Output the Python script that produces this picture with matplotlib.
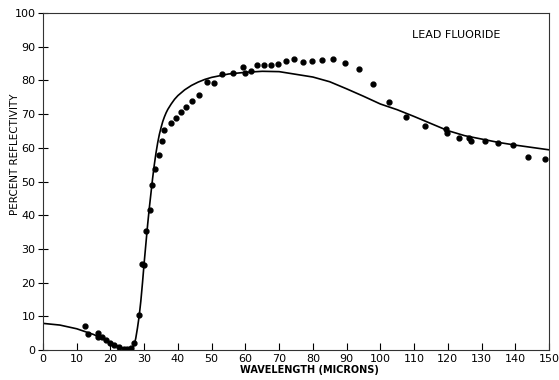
import matplotlib
matplotlib.use("Agg")
import matplotlib.pyplot as plt

# measured reflectivity points (wavelength in microns, percent)
pts_x = [12.5, 13.4, 16.2, 16.4, 17.4, 18.7, 19.9, 21.1, 22.6, 24.0, 25.0, 26.0, 27.1, 28.5,
         29.3, 29.8, 30.4, 31.6, 32.2, 33.3, 34.3, 35.4, 35.9, 37.9, 39.3, 40.8, 42.5, 44.3,
         46.3, 48.5, 50.8, 53.2, 56.2, 59.3, 59.8, 61.7, 63.5, 65.5, 67.6, 69.7, 72.0, 74.4,
         77.0, 79.8, 82.6, 86.1, 89.6, 93.6, 97.7, 102.7, 107.7, 113.3, 119.5, 119.9, 123.3,
         126.3, 126.8, 131.0, 135.0, 139.4, 143.7, 148.8]
pts_y = [7.0, 4.7, 5.1, 3.9, 3.8, 2.9, 2.2, 1.5, 1.0, 0.4, 0.2, 0.5, 2.2, 10.4,
         25.5, 25.3, 35.4, 41.5, 49.0, 53.6, 58.0, 62.1, 65.4, 67.3, 68.9, 70.5, 72.2, 73.9,
         75.7, 79.4, 79.1, 81.8, 82.1, 83.9, 82.1, 82.8, 84.5, 84.5, 84.6, 84.8, 85.8, 86.3,
         85.4, 85.8, 86.1, 86.4, 85.2, 83.5, 78.9, 73.6, 69.2, 66.5, 65.5, 64.5, 63.0,
         63.0, 62.0, 62.0, 61.3, 60.8, 57.2, 56.7]

# calculated curve
curve_x = [0, 5, 10, 15, 20, 23, 25, 26, 27, 27.5, 28, 28.5, 29, 29.5, 30, 30.5, 31, 31.5,
           32, 32.5, 33, 33.5, 34, 34.5, 35, 35.5, 36, 36.5, 37, 38, 39, 40, 42, 44, 46, 48,
           50, 55, 60, 65, 70, 75, 80, 85, 90, 95, 100, 105, 110, 115, 120, 125, 130, 135,
           140, 145, 150]
curve_y = [7.9, 7.4, 6.3, 4.6, 2.2, 0.8, 0.3, 0.4, 1.3, 3.5, 6.5, 10.0, 14.5, 20.0, 26.0,
           31.5, 37.0, 42.0, 46.5, 51.0, 55.0, 58.5, 61.5, 64.0, 66.0, 67.8, 69.2, 70.4,
           71.4, 73.0, 74.4, 75.5, 77.2, 78.5, 79.5, 80.3, 80.9, 81.9, 82.4, 82.7, 82.6,
           81.8, 81.0, 79.6, 77.5, 75.3, 73.0, 71.3, 69.3, 67.2, 65.1, 63.6, 62.6, 61.6,
           60.8, 60.1, 59.4]

xticks = list(range(0, 151, 10))
yticks = list(range(0, 101, 10))

plt.rcParams['font.family'] = ['DejaVu Sans']

fig = plt.figure(figsize=(5.59, 3.8), dpi=100)
ax = fig.add_axes([43 / 559, 30 / 380, 506 / 559, 337 / 380])

ax.plot(curve_x, curve_y, color='black', lw=1.2)
ax.plot(pts_x, pts_y, 'o', color='black', ms=3.5)

ax.set_xlim(0, 150)
ax.set_ylim(0, 100)
ax.set_xticks(xticks)
ax.set_yticks(yticks)
ax.tick_params(axis='x', direction='in', length=5, width=0.8, labelsize=8, pad=3)
ax.tick_params(axis='y', direction='inout', length=7, width=0.8, labelsize=8, pad=2)
for s in ax.spines.values():
    s.set_linewidth(0.8)
    s.set_color('#333333')

ax.set_xlabel("WAVELENGTH (MICRONS)", fontsize=7, fontweight='bold')
ax.xaxis.set_label_coords(0.526, -0.045)
ax.set_ylabel("PERCENT REFLECTIVITY", fontsize=7.5)
ax.yaxis.set_label_coords(-0.045, 0.58)

ax.text(122.5, 93.5, "LEAD FLUORIDE", fontsize=8, ha='center', va='center')

fig.savefig("out.png", dpi=100)
